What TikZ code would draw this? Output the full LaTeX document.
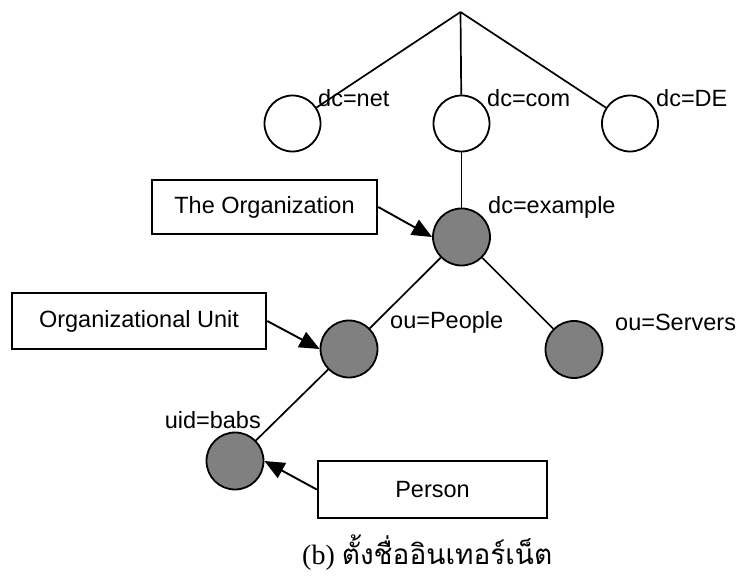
\documentclass[tikz,border=0pt]{standalone}
\usepackage{fontspec}
\setmainfont{Liberation Sans}
\newfontfamily\capserif{Liberation Serif}
\newfontfamily\thaifont[Script=Thai]{Loma}
\usetikzlibrary{arrows.meta}
\definecolor{nodegray}{RGB}{128,128,128}
\begin{document}
\begin{tikzpicture}[x=1pt,y=-1pt,
  treeline/.style={line width=1.7pt},
  opennode/.style={circle,draw,line width=1.8pt,fill=white,minimum size=56pt,inner sep=0pt},
  fillnode/.style={circle,draw,line width=1.8pt,fill=nodegray,minimum size=57pt,inner sep=0pt},
  lbl/.style={inner sep=0pt,font=\fontsize{23.5}{26}\selectfont},
  infobox/.style={draw,line width=2.5pt,inner sep=0pt,font=\fontsize{23.5}{26}\selectfont},
  pointer/.style={line width=1.9pt,-{Triangle[length=20pt,width=17pt]}}
]
\useasboundingbox (0,0) rectangle (737,577);
% nodes
\coordinate (root) at (460.5,12);
\node[opennode] (net) at (292.5,123.5) {};
\node[opennode] (com) at (461.5,123.5) {};
\node[opennode] (de)  at (630,123.5) {};
\node[fillnode] (ex) at (461.5,237) {};
\node[fillnode] (people) at (349,349) {};
\node[fillnode] (servers) at (574,349.5) {};
\node[fillnode] (babs) at (235,461) {};
% labels
\node[lbl,anchor=west] (lnet) at (318,98) {dc=net};
\node[lbl,anchor=west] (lcom) at (487,98) {dc=com};
\node[lbl,anchor=west] (lde) at (656,98) {dc=DE};
\node[lbl,anchor=west] (lex) at (488,207) {dc=example};
\node[lbl,anchor=west] (lpeople) at (390,322) {ou=People};
\node[lbl,anchor=west] (lservers) at (615,322) {ou=Servers};
\node[lbl,anchor=east] (lbabs) at (261,420) {uid=babs};
% boxes
\node[infobox,minimum width=225pt,minimum height=54pt] (org) at (264.5,207) {The Organization};
\node[infobox,minimum width=254pt,minimum height=56pt] (unit) at (139,321) {Organizational Unit};
\node[infobox,minimum width=229pt,minimum height=57pt] (person) at (432.5,489.5) {Person};
% tree lines
\draw[treeline] (root) -- (net);
\draw[treeline] (root) -- (com);
\draw[treeline] (root) -- (de);
\draw[treeline] (com) -- (ex);
\draw[treeline] (ex) -- (people);
\draw[treeline] (ex) -- (servers);
\draw[treeline] (people) -- (babs);
% pointers
\draw[pointer] (org.east) -- (ex.west);
\draw[pointer] (unit.east) -- (people.west);
\draw[pointer] (person.west) -- (babs.east);
% caption
\node[inner sep=0pt,anchor=base west] (caption) at (302,564) {\capserif\fontsize{28}{30}\selectfont (b) \thaifont\fontsize{28}{30}\selectfont ตั้งชื่ออินเทอร์เน็ต};
\end{tikzpicture}
\end{document}
